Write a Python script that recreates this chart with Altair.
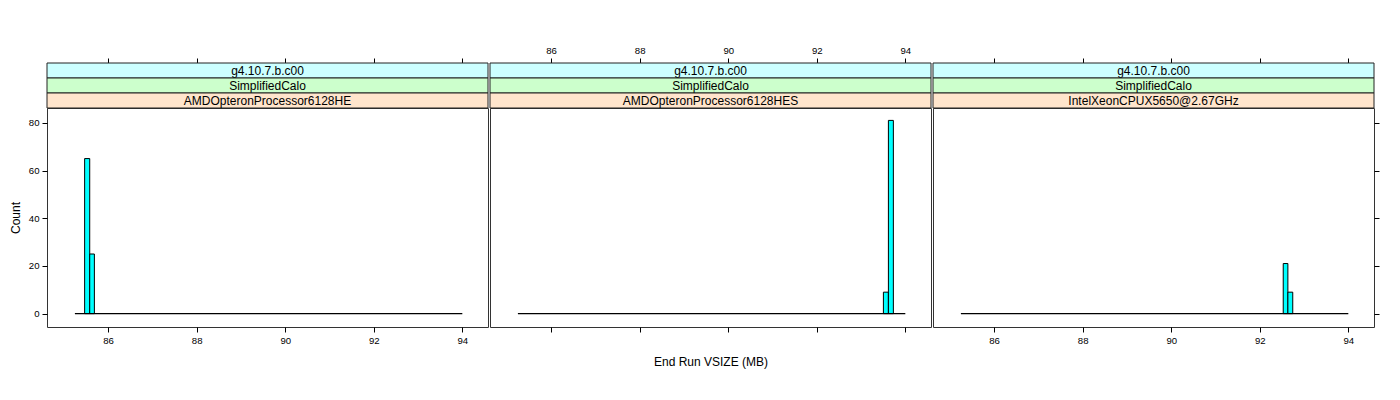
import altair as alt
import pandas as pd

# ---- data ----
panel_names = ["AMDOpteronProcessor6128HE", "AMDOpteronProcessor6128HES", "IntelXeonCPUX5650@2.67GHz"]
strip_top = "g4.10.7.b.c00"
strip_mid = "SimplifiedCalo"

bin_starts = [[85.47, 85.585], [93.505, 93.618], [92.53, 92.635]]
bin_ends = [[85.585, 85.69], [93.618, 93.73], [92.635, 92.745]]
counts = [[65, 25], [9, 81], [21, 9]]

hist_range = [85.25, 94.0]          # extent of the (mostly empty) histogram bins
x_domain = [84.62, 94.58]
y_domain = [-5.6, 86.2]
x_ticks = [86, 88, 90, 92, 94]
y_ticks = [0, 20, 40, 60, 80]

x_title = "End Run VSIZE (MB)"
y_title = "Count"

strip_colors = ["#CCFFFF", "#CCFFCC", "#FFE5CC"]
bar_color = "#00FFFF"

W, H = 441, 219
SH = 15


def panel(i):
    bars_df = pd.DataFrame({"start": bin_starts[i], "end": bin_ends[i], "count": counts[i]})
    base_df = pd.DataFrame({"x0": [hist_range[0]], "x1": [hist_range[1]], "count": [0]})

    xs = alt.Scale(domain=x_domain, nice=False, zero=False)
    ys = alt.Scale(domain=y_domain, nice=False, zero=False)

    bottom_axis = alt.Axis(
        orient="bottom", values=x_ticks, tickSize=5, domain=False, grid=False,
        labelFontSize=9.6, labelPadding=3,
        labelColor="#000000" if i != 1 else "transparent",
        title=x_title if i == 1 else None,
        titleFontSize=12, titleFontWeight="normal", titlePadding=12,
    )
    top_axis = alt.Axis(
        orient="top", offset=45, values=x_ticks, tickSize=5, domain=False, grid=False,
        labelFontSize=9.6, labelPadding=3,
        labelColor="#000000" if i == 1 else "transparent", title=None,
    )
    if i == 0:
        y_axis = alt.Axis(orient="left", values=y_ticks, tickSize=5, domain=False, grid=False,
                          labelFontSize=9.6, labelPadding=3, title=y_title, titleFontSize=12,
                          titleFontWeight="normal", titlePadding=6)
        y_enc = alt.Y("count:Q", scale=ys, axis=y_axis)
    elif i == 2:
        y_axis = alt.Axis(orient="right", values=y_ticks, tickSize=5, domain=False, grid=False,
                          labels=False, title=None)
        y_enc = alt.Y("count:Q", scale=ys, axis=y_axis)
    else:
        y_enc = alt.Y("count:Q", scale=ys, axis=None)

    bars = alt.Chart(bars_df).mark_rect(fill=bar_color, stroke="#000000", strokeWidth=1).encode(
        x=alt.X("start:Q", scale=xs, axis=bottom_axis),
        x2="end:Q",
        y=y_enc,
        y2=alt.datum(0),
    )
    base = alt.Chart(base_df).mark_rule(color="#000000", strokeWidth=1.3).encode(
        x=alt.X("x0:Q", scale=xs, axis=top_axis),
        x2="x1:Q",
        y=y_enc,
    )

    layers = [bars, base]
    labels = [strip_top, strip_mid, panel_names[i]]
    for k in range(3):
        sdf = pd.DataFrame({"label": [labels[k]]})
        y0 = -45 + SH * k
        rect = alt.Chart(sdf).mark_rect(fill=strip_colors[k], stroke="#222222", strokeWidth=1).encode(
            x=alt.value(0), x2=alt.value(W), y=alt.value(y0), y2=alt.value(y0 + SH)
        )
        txt = alt.Chart(sdf).mark_text(fontSize=12, baseline="middle", align="center", color="#000000").encode(
            x=alt.value(W / 2), y=alt.value(y0 + SH / 2 + 0.5), text="label:N"
        )
        layers += [rect, txt]

    return alt.layer(*layers).properties(width=W, height=H)


chart = alt.hconcat(panel(0), panel(1), panel(2), spacing=0).properties(
    padding={"left": 0, "top": 36, "right": 5, "bottom": 5}
).configure(
    font="Liberation Sans"
).configure_view(
    stroke="#333333", strokeWidth=1
).configure_axis(
    tickColor="#000000"
)

chart.save("out.html", embed_options={"renderer": "svg", "actions": False})
